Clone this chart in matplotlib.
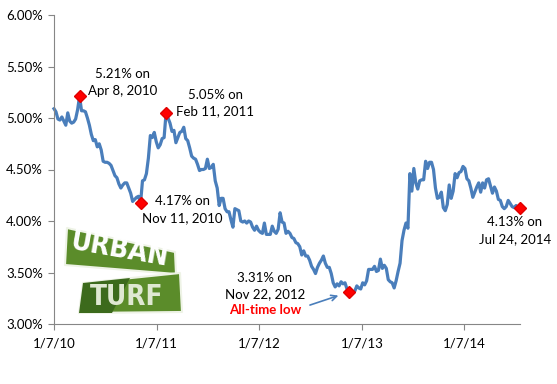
import datetime as dt
import matplotlib
matplotlib.use("Agg")
import matplotlib.pyplot as plt
from matplotlib.patches import Polygon

plt.rcParams['font.family'] = ['Lato', 'DejaVu Sans']

# weekly 30-year fixed rates (%), first week Jan 7 2010
rates_2010 = [5.09, 5.06, 4.99, 4.98, 5.01, 4.97, 4.93, 5.05, 4.97, 4.95, 4.96, 4.99, 5.08,
              5.21, 5.07, 5.07, 5.06, 5.00, 4.93, 4.84, 4.78, 4.79, 4.72, 4.75, 4.69, 4.58,
              4.57, 4.57, 4.56, 4.54, 4.49, 4.44, 4.42, 4.36, 4.32, 4.35, 4.37, 4.37, 4.32,
              4.27, 4.19, 4.21, 4.23, 4.24, 4.17, 4.39, 4.40, 4.46, 4.61, 4.83, 4.81, 4.86]
rates_2011 = [4.77, 4.71, 4.74, 4.80, 4.81, 5.05, 5.00, 4.95, 4.87, 4.88, 4.76, 4.81, 4.86,
              4.87, 4.91, 4.80, 4.78, 4.71, 4.63, 4.61, 4.60, 4.55, 4.49, 4.50, 4.50, 4.51,
              4.60, 4.51, 4.52, 4.55, 4.39, 4.32, 4.15, 4.22, 4.22, 4.12, 4.09, 4.09, 4.01,
              3.94, 4.12, 4.11, 4.10, 4.00, 3.99, 4.00, 3.98, 4.00, 3.99, 3.94, 3.91, 3.95]
rates_2012 = [3.91, 3.89, 3.88, 3.98, 3.87, 3.87, 3.87, 3.95, 3.90, 3.88, 3.92, 4.08, 3.99,
              3.98, 3.88, 3.90, 3.88, 3.84, 3.83, 3.79, 3.78, 3.75, 3.67, 3.71, 3.66, 3.66,
              3.62, 3.56, 3.53, 3.49, 3.55, 3.59, 3.62, 3.66, 3.59, 3.55, 3.55, 3.49, 3.40,
              3.36, 3.39, 3.37, 3.41, 3.39, 3.40, 3.34, 3.31, 3.32, 3.31, 3.32, 3.37, 3.35]
rates_2013 = [3.34, 3.40, 3.38, 3.42, 3.53, 3.53, 3.53, 3.56, 3.51, 3.52, 3.63, 3.54, 3.57,
              3.54, 3.43, 3.41, 3.40, 3.35, 3.42, 3.51, 3.59, 3.81, 3.91, 3.98, 3.93, 4.46,
              4.29, 4.51, 4.37, 4.31, 4.39, 4.40, 4.40, 4.58, 4.51, 4.57, 4.57, 4.50, 4.32,
              4.22, 4.23, 4.28, 4.13, 4.10, 4.16, 4.35, 4.22, 4.29, 4.46, 4.42, 4.47, 4.48]
rates_2014 = [4.53, 4.51, 4.41, 4.39, 4.32, 4.23, 4.28, 4.33, 4.37, 4.28, 4.37, 4.32, 4.40,
              4.41, 4.34, 4.27, 4.33, 4.29, 4.21, 4.20, 4.14, 4.12, 4.14, 4.20, 4.17, 4.14,
              4.13, 4.15, 4.13, 4.13]
rates = rates_2010 + rates_2011 + rates_2012 + rates_2013 + rates_2014
start = dt.date(2010, 1, 7)
dates = [start + dt.timedelta(weeks=i) for i in range(len(rates))]

# highlighted points: (date, value, label, text offset in pixels)
highlights = [
    (dt.date(2010, 4, 8), 5.21, "5.21% on\nApr 8, 2010", (43, 14)),
    (dt.date(2010, 11, 11), 4.17, "4.17% on\nNov 11, 2010", (42, -6)),
    (dt.date(2011, 2, 10), 5.05, "5.05% on\nFeb 11, 2011", (49, 10)),
    (dt.date(2012, 11, 22), 3.31, "3.31% on\nNov 22, 2012", (-84, 6)),
    (dt.date(2014, 7, 24), 4.13, "4.13% on\nJul 24, 2014", (-5, -23)),
]
tick_dates = [dt.date(y, 1, 7) for y in range(2010, 2015)]
tick_labels = ["1/7/10", "1/7/11", "1/7/12", "1/7/13", "1/7/14"]
y_ticks = [3.0, 3.5, 4.0, 4.5, 5.0, 5.5, 6.0]

W, H = 557, 384
fig = plt.figure(figsize=(W / 100, H / 100), dpi=100)
ax = fig.add_axes([54 / W, 1 - 324 / H, (520 - 54) / W, (324 - 15) / H])

ax.plot(dates, rates, color="#4a7ebb", lw=2.3, solid_joinstyle="round", clip_on=False)
for d, v, label, off in highlights:
    ax.plot([d], [v], marker="D", ms=6.5, color="#ff0000", mec="#e00000", zorder=5,
            clip_on=False)
    ax.annotate(label, (d, v), xytext=off, textcoords="offset pixels",
                ha="center", va="center", fontsize=9.5, linespacing=1.45)

# all-time low callout
d_low, v_low = highlights[3][0], highlights[3][1]
ax.annotate("All-time low", (d_low, v_low), xytext=(-84, -18), textcoords="offset pixels",
            ha="center", va="center", fontsize=9.5, color="#ff0000", fontweight="bold")
ax.annotate("", xy=(d_low, v_low), xytext=(-39, -13), textcoords="offset pixels",
            arrowprops=dict(arrowstyle="->", color="#4a7ebb", lw=1.2,
                            shrinkA=0, shrinkB=8))

ax.set_xlim(start, dates[-1])
ax.set_ylim(3.0, 6.0)
ax.set_xticks(tick_dates)
ax.set_xticklabels(tick_labels)
ax.set_yticks(y_ticks)
ax.set_yticklabels(["%.2f%%" % t for t in y_ticks])
for s in ["top", "right"]:
    ax.spines[s].set_visible(False)
for s in ["left", "bottom"]:
    ax.spines[s].set_color("#868686")
ax.tick_params(direction="out", length=4, color="#868686", labelsize=9.5, pad=4)
ax.tick_params(axis="x", pad=6)

# Urban Turf logo, drawn in figure pixels
lg = fig.add_axes([0, 0, 1, 1], zorder=3)
lg.set_xlim(0, W)
lg.set_ylim(H, 0)
lg.axis("off")
lg.patch.set_alpha(0)
lg.add_patch(Polygon([(67, 228), (175, 252), (176, 274), (65, 265)], closed=True,
                     fc="#5b8c2a", ec="#eef3e6", lw=1.5, joinstyle="round"))
lg.text(120, 250, "URBAN", color="white", fontsize=20, fontweight="bold",
        ha="center", va="center", rotation=-10, family="DejaVu Sans",
        fontstretch="condensed")
lg.add_patch(Polygon([(83, 283), (180, 273), (182, 312), (79, 313)], closed=True,
                     fc="#5b8c2a", ec="#eef3e6", lw=1.5, joinstyle="round"))
lg.add_patch(Polygon([(83, 283), (130, 278), (112, 313), (79, 313)], closed=True,
                     fc="#3c6a1c", ec="none"))
lg.text(127, 297, "TURF", color="#dfe8d2", fontsize=20, fontweight="bold",
        ha="center", va="center", family="DejaVu Sans", fontstretch="condensed")

fig.savefig("out.png", dpi=100)
